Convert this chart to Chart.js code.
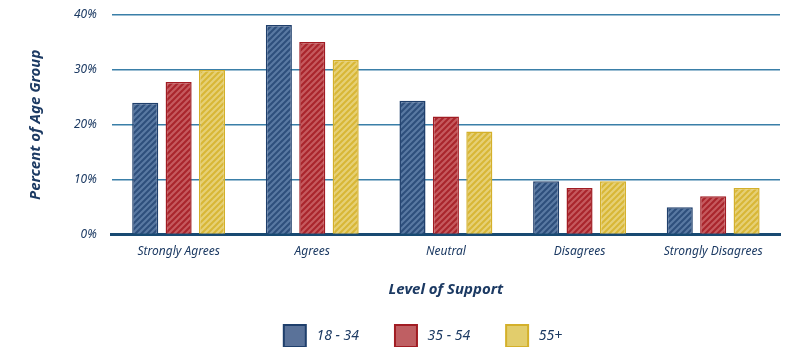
<!DOCTYPE html>
<html>
<head>
<meta charset="utf-8">
<script src="https://cdn.jsdelivr.net/npm/chart.js@4"></script>
<style>
  html, body { margin: 0; padding: 0; background: #ffffff; }
  #wrap { width: 800px; height: 364px; }
</style>
</head>
<body>
<div id="wrap"><canvas id="myChart" width="800" height="364"></canvas></div>
<script>
// data
let categories = ['Strongly Agrees', 'Agrees', 'Neutral', 'Disagrees', 'Strongly Disagrees']
let groupLabels = ['18 - 34', '35 - 54', '55+']
let age18to34 = [24, 38.2, 24.4, 9.7, 5]
let age35to54 = [27.8, 35.1, 21.5, 8.5, 7]
let age55plus = [30, 31.8, 18.8, 9.7, 8.5]
let yTicks = [0, 10, 20, 30, 40]

let navy = '#1c3a63'
let fonte = "'Noto Sans', sans-serif"

// colours: [base, light stripe, border, legend fill]
let corAzul = ['#2e4f7c', '#5979a2', '#1f3f6c', '#5a7299']
let corVermelho = ['#a9252c', '#c55a5e', '#a11c23', '#bf5f63']
let corAmarelo = ['#d8b736', '#e6d076', '#d4b02a', '#e2cd6c']

function listras(cores) {
    let c = document.createElement('canvas')
    c.width = 6
    c.height = 6
    let g = c.getContext('2d')
    g.fillStyle = cores[0]
    g.fillRect(0, 0, 6, 6)
    g.strokeStyle = cores[1]
    g.lineWidth = 2.2
    g.beginPath()
    g.moveTo(-1, 7); g.lineTo(7, -1)
    g.moveTo(-7, 7); g.lineTo(7, -7)
    g.moveTo(-1, 13); g.lineTo(13, -1)
    g.stroke()
    return g.createPattern(c, 'repeat')
}

// nudge the legend row to the right, like the original
const legendShift = {
    id: 'legendShift',
    afterLayout: function (chart) {
        if (chart.legend) {
            chart.legend.left += 26
            chart.legend.right += 26
        }
    }
}

const ctx = document.getElementById('myChart').getContext('2d')

function serie(label, data, cores) {
    return {
        label: label,
        data: data,
        backgroundColor: listras(cores),
        borderColor: cores[2],
        borderWidth: 1.5,
        borderSkipped: 'bottom',
        legendFill: cores[3],
        barPercentage: 0.78,
        categoryPercentage: 0.75
    }
}

let myChart = new Chart(ctx, {
    type: 'bar',
    data: {
        labels: categories,
        datasets: [
            serie(groupLabels[0], age18to34, corAzul),
            serie(groupLabels[1], age35to54, corVermelho),
            serie(groupLabels[2], age55plus, corAmarelo)
        ]
    },
    plugins: [legendShift],
    options: {
        responsive: false,
        animation: false,
        layout: { padding: { left: 14, right: 20, top: 0, bottom: 17 } },
        plugins: {
            tooltip: { enabled: false },
            legend: {
                position: 'bottom',
                maxHeight: 58,
                labels: {
                    boxWidth: 22,
                    boxHeight: 22,
                    padding: 36,
                    color: navy,
                    font: { family: fonte, size: 14, style: 'italic' },
                    generateLabels: function (chart) {
                        return chart.data.datasets.map(function (ds, i) {
                            return {
                                text: ' ' + ds.label,
                                fillStyle: ds.legendFill,
                                strokeStyle: ds.borderColor,
                                lineWidth: 2,
                                fontColor: navy,
                                datasetIndex: i
                            }
                        })
                    }
                }
            }
        },
        scales: {
            x: {
                grid: { display: false, drawTicks: false },
                border: { display: true, color: '#184a72', width: 3 },
                ticks: {
                    color: navy,
                    padding: 10,
                    font: { family: fonte, size: 12, style: 'italic' }
                },
                title: {
                    display: true,
                    text: 'Level of Support',
                    color: navy,
                    padding: { top: 12, bottom: -10 },
                    font: { family: fonte, size: 15, weight: 'bold', style: 'italic' }
                }
            },
            y: {
                min: 0,
                max: 40,
                afterBuildTicks: function (axis) {
                    axis.ticks = yTicks.map(function (v) { return { value: v } })
                },
                grid: {
                    drawTicks: false,
                    color: function (c) { return c.tick && c.tick.value === 0 ? 'rgba(0,0,0,0)' : '#3a7fa8' },
                    lineWidth: 1.5
                },
                border: { display: false },
                ticks: {
                    color: navy,
                    padding: 15,
                    font: { family: fonte, size: 12, style: 'italic', lineHeight: 0 },
                    callback: function (v) { return v + '%' }
                },
                title: {
                    display: true,
                    text: 'Percent of Age Group',
                    color: navy,
                    padding: { top: 13, bottom: 14 },
                    font: { family: fonte, size: 15, weight: 'bold', style: 'italic' }
                }
            }
        }
    }
})
</script>
</body>
</html>
